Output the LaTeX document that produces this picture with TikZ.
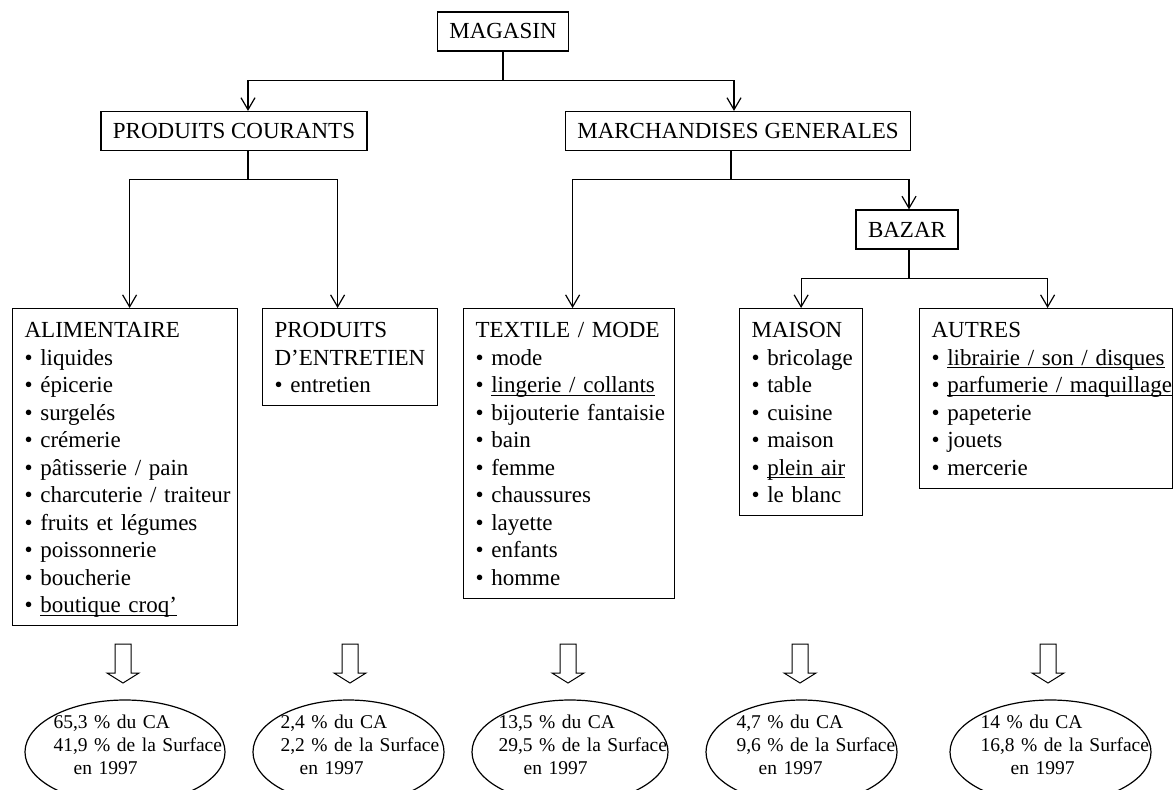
\documentclass[tikz,border=0pt]{standalone}
\usepackage{fontspec}
\setmainfont{Liberation Serif}
\usetikzlibrary{arrows.meta,shapes.geometric}

% underline drawn through the descenders, as in the printed chart
\newcommand\undl[1]{\setbox0\hbox{#1}\rlap{\rule[-3pt]{\wd0}{1.1pt}}\box0}
% one bulleted item that never breaks
\newcommand\itm[1]{\mbox{• #1}}
% depth below the last line of a list box
\newcommand\lastdepth{\rule[-13pt]{0pt}{13pt}}

\tikzset{
  bigfont/.style={font=\fontsize{23}{27.5}\selectfont},
  topbox/.style={draw, bigfont, inner xsep=12pt, inner ysep=9pt,
                 text height=18pt, text depth=3pt},
  listbox/.style={draw, bigfont, anchor=north west, align=left,
                  inner xsep=12pt, inner ysep=0pt, text height=29pt,
                  text width=#1},
  arr/.style={-{Straight Barb[length=12pt,width=14pt]}},
  share/.style={draw, ellipse, inner sep=0pt, minimum height=104pt},
  sharetext/.style={anchor=north west, align=left, inner sep=0pt,
                    text width=200pt, text height=14pt,
                    font=\fontsize{19.5}{23}\selectfont},
  blockarrow/.pic={
    \draw[line width=1pt] (-8,0) -- (8,0) -- (8,29) -- (16,29) -- (0,39)
      -- (-16,29) -- (-8,29) -- cycle;
  }
}

\begin{document}
\begin{tikzpicture}[x=1pt, y=-1pt, line width=1.2pt]
\useasboundingbox (0,0) rectangle (1174,789);

% ---- hierarchy ----
\node[topbox] (mag) at (503,31.5) {MAGASIN};
\node[topbox] (pc)  at (234,131)  {PRODUITS COURANTS};
\node[topbox] (mg)  at (738,131)  {MARCHANDISES GENERALES};
\node[topbox] (baz) at (907,229.5) {BAZAR};

\node[listbox=201pt] (alim) at (12,308) {ALIMENTAIRE\\
  \itm{liquides}\\
  \itm{épicerie}\\
  \itm{surgelés}\\
  \itm{crémerie}\\
  \itm{pâtisserie / pain}\\
  \itm{charcuterie / traiteur}\\
  \itm{fruits et légumes}\\
  \itm{poissonnerie}\\
  \itm{boucherie}\\
  \itm{\undl{boutique croq’}}\lastdepth};

\node[listbox=151pt] (pde) at (262,308) {PRODUITS\\
  \mbox{D’ENTRETIEN}\\
  \itm{entretien}\lastdepth};

\node[listbox=187pt] (tex) at (463,308) {TEXTILE / MODE\\
  \itm{mode}\\
  \itm{\undl{lingerie / collants}}\\
  \itm{bijouterie fantaisie}\\
  \itm{bain}\\
  \itm{femme}\\
  \itm{chaussures}\\
  \itm{layette}\\
  \itm{enfants}\\
  \itm{homme}\lastdepth};

\node[listbox=99pt] (mai) at (739,308) {MAISON\\
  \itm{bricolage}\\
  \itm{table}\\
  \itm{cuisine}\\
  \itm{maison}\\
  \itm{\undl{plein air}}\\
  \itm{le blanc}\lastdepth};

\node[listbox=229pt] (aut) at (919,308) {AUTRES\\
  \itm{\undl{librairie / son / disques}}\\
  \itm{\undl{parfumerie / maquillage}}\\
  \itm{papeterie}\\
  \itm{jouets}\\
  \itm{mercerie}\lastdepth};

% ---- connectors ----
\draw (mag.south) -- ++(0,29) coordinate (jm);
\draw[arr] (jm) -| ([xshift=14pt]pc.north);
\draw[arr] (jm) -| ([xshift=-4pt]mg.north);

\draw ([xshift=14pt]pc.south) -- ++(0,28) coordinate (jp);
\draw[arr] (jp) -| ([xshift=4.5pt]alim.north);
\draw[arr] (jp) -| ([xshift=-12.5pt]pde.north);

\draw ([xshift=-7pt]mg.south) -- ++(0,28) coordinate (jg);
\draw[arr] (jg) -| ([xshift=3.5pt]tex.north);
\draw[arr] (jg) -| ([xshift=2pt]baz.north);

\draw ([xshift=2pt]baz.south) -- ++(0,29) coordinate (jb);
\draw[arr] (jb) -| (mai.north);
\draw[arr] (jb) -| ([xshift=1.5pt]aut.north);

% ---- shares of turnover and floor space ----
\pic at (123,644) {blockarrow};
\pic at (350,644) {blockarrow};
\pic at (568,644) {blockarrow};
\pic at (800,644) {blockarrow};
\pic at (1048,644) {blockarrow};

\node[share, minimum width=200pt] (e1) at (125,752) {};
\node[share, minimum width=191pt] (e2) at (348.5,752) {};
\node[share, minimum width=196pt] (e3) at (570,752) {};
\node[share, minimum width=191pt] (e4) at (801.5,752) {};
\node[share, minimum width=201pt] (e5) at (1050.5,752) {};

\node[sharetext] (t1) at (53,714)  {65,3 \% du CA\\41,9 \% de la Surface\\\hspace*{20pt}en 1997};
\node[sharetext] (t2) at (280,714) {2,4 \% du CA\\2,2 \% de la Surface\\\hspace*{19pt}en 1997};
\node[sharetext] (t3) at (498,714) {13,5 \% du CA\\29,5 \% de la Surface\\\hspace*{25pt}en 1997};
\node[sharetext] (t4) at (736,714) {4,7 \% du CA\\9,6 \% de la Surface\\\hspace*{22pt}en 1997};
\node[sharetext] (t5) at (980,714) {14 \% du CA\\16,8 \% de la Surface\\\hspace*{30pt}en 1997};
\end{tikzpicture}
\end{document}
